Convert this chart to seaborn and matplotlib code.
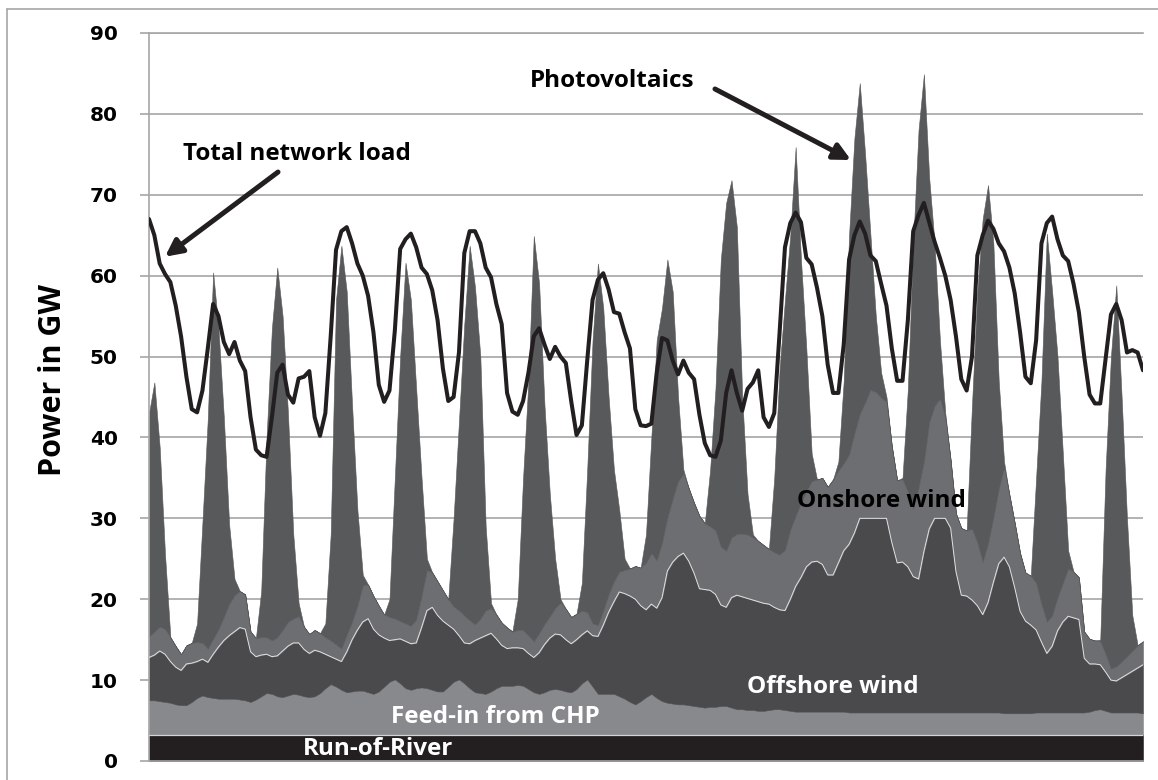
import matplotlib
matplotlib.use("Agg")
import matplotlib.pyplot as plt
from matplotlib.lines import Line2D
import numpy as np
import pandas as pd
import seaborn as sns

# time axis: hours since midnight of the first day, 2 h steps
hours = np.arange(10, 384, 2)

run_of_river = 3.2  # GW, constant band

chp = [
    4.3, 4.3, 4.2, 4.1, 4.0, 3.8, 3.7,
    3.7, 4.1, 4.6, 4.9, 4.7, 4.6, 4.5, 4.5, 4.5, 4.5, 4.4, 4.3,
    4.1, 4.4, 4.8, 5.2, 5.1, 4.8, 4.7, 4.9, 5.1, 5.0, 4.8, 4.7,
    4.8, 5.2, 5.8, 6.3, 6.0, 5.6, 5.3, 5.4, 5.5, 5.5, 5.3, 5.1,
    5.4, 6.0, 6.6, 6.9, 6.4, 5.8, 5.6, 5.8, 5.9, 5.8, 5.6, 5.4,
    5.4, 6.0, 6.6, 6.9, 6.4, 5.8, 5.3, 5.2, 5.1, 5.4, 5.8, 6.1,
    6.1, 6.1, 6.2, 6.1, 5.7, 5.3, 5.1, 5.3, 5.6, 5.7, 5.6, 5.4,
    5.3, 5.7, 6.4, 6.9, 6.0, 5.1, 5.1, 5.1, 5.1, 4.8, 4.5, 4.1,
    3.8, 4.2, 4.7, 5.1, 4.6, 4.2, 4.0, 3.9, 3.8, 3.8, 3.7, 3.6,
    3.5, 3.4, 3.5, 3.5, 3.6, 3.6, 3.4, 3.2, 3.2, 3.1, 3.1, 3.0,
    3.0, 3.1, 3.2, 3.2, 3.1, 3.0, 2.9, 2.9, 2.9, 2.9, 2.9, 2.9,
    2.9, 2.9, 2.9, 2.9, 2.8, 2.8, 2.8, 2.8, 2.8, 2.8, 2.8, 2.8,
    2.8, 2.8, 2.8, 2.8, 2.8, 2.8, 2.8, 2.8, 2.8, 2.8, 2.8, 2.8,
    2.8, 2.8, 2.8, 2.8, 2.8, 2.8, 2.8, 2.8, 2.8, 2.7, 2.7, 2.7,
    2.7, 2.7, 2.7, 2.8, 2.8, 2.8, 2.8, 2.8, 2.8, 2.8, 2.8, 2.8,
    2.8, 2.9, 3.1, 3.2, 3.0, 2.8, 2.8, 2.8, 2.8, 2.8, 2.8, 2.7,
]

offshore = [
    5.3, 5.6, 6.2, 5.9, 5.1, 4.6, 4.3,
    5.1, 4.8, 4.5, 4.5, 4.3, 5.4, 6.4, 7.2, 7.8, 8.3, 8.9, 8.8,
    6.2, 5.3, 5.1, 4.8, 4.6, 5.0, 5.7, 6.1, 6.3, 6.4, 5.8, 5.4,
    5.7, 5.1, 4.2, 3.4, 3.4, 3.5, 5.0, 6.4, 7.5, 8.5, 9.1, 8.0,
    7.0, 6.0, 5.1, 4.9, 5.5, 5.8, 5.7, 5.6, 7.4, 9.6, 10.2, 9.4,
    8.7, 7.6, 6.5, 5.4, 5.0, 5.5, 6.4, 6.8, 7.2, 7.2, 6.1, 5.0,
    4.6, 4.7, 4.6, 4.6, 4.4, 4.3, 5.1, 5.9, 6.4, 6.8, 6.8, 6.4,
    6.0, 6.1, 6.0, 6.0, 6.3, 7.1, 8.5, 10.1, 11.4, 12.9, 13.0, 13.1,
    13.0, 11.8, 10.8, 11.1, 11.1, 12.8, 16.3, 17.5, 18.3, 18.7, 17.8, 16.4,
    14.6, 14.6, 14.4, 13.9, 12.5, 12.2, 13.6, 14.1, 13.9, 13.8, 13.6, 13.5,
    13.3, 13.1, 12.6, 12.3, 12.3, 13.8, 15.5, 16.6, 17.9, 18.5, 18.6, 18.2,
    16.9, 16.9, 18.4, 19.9, 20.8, 22.2, 24.0, 24.0, 24.0, 24.0, 24.0, 24.0,
    21.0, 18.5, 18.6, 18.0, 16.8, 16.5, 19.9, 22.7, 24.0, 24.0, 24.0, 22.8,
    17.4, 14.5, 14.4, 13.9, 13.2, 12.1, 13.6, 16.1, 18.4, 19.3, 18.1, 15.5,
    12.6, 11.4, 10.9, 10.2, 8.7, 7.3, 8.2, 10.1, 11.2, 11.9, 11.7, 11.5,
    6.7, 5.9, 5.7, 5.5, 4.8, 4.0, 3.9, 4.3, 4.7, 5.1, 5.5, 6.0,
]

onshore = [
    2.6, 2.9, 3.0, 3.1, 3.0, 2.6, 2.0,
    2.3, 2.5, 2.4, 2.0, 1.7, 1.9, 2.2, 2.9, 3.9, 4.5, 4.5, 4.3,
    2.5, 2.3, 2.2, 2.1, 2.0, 2.3, 2.6, 3.0, 3.0, 3.3, 2.8, 2.4,
    2.5, 2.3, 2.1, 2.0, 1.8, 1.6, 2.1, 2.2, 3.0, 4.5, 4.2, 4.1,
    3.6, 2.9, 2.9, 2.6, 2.2, 2.2, 2.2, 2.9, 3.9, 5.0, 4.3, 4.2,
    3.8, 3.2, 2.8, 3.1, 3.4, 2.9, 2.0, 2.4, 3.1, 3.1, 3.0, 2.8,
    2.6, 2.0, 2.2, 2.3, 2.2, 2.0, 2.4, 2.5, 2.7, 3.2, 4.0, 3.8,
    3.3, 3.2, 3.0, 2.3, 1.5, 1.4, 1.8, 2.2, 2.5, 2.5, 2.9, 3.4,
    4.1, 4.7, 5.8, 6.3, 5.9, 6.8, 6.6, 7.8, 9.3, 9.8, 9.0, 8.7,
    9.0, 8.2, 7.9, 7.9, 7.2, 7.0, 7.4, 7.6, 7.8, 7.9, 7.7, 7.5,
    7.2, 6.8, 6.8, 6.8, 7.5, 8.6, 8.7, 9.2, 9.3, 10.0, 10.1, 10.7,
    10.9, 11.8, 11.4, 10.8, 11.1, 12.3, 12.9, 14.3, 15.9, 15.6, 14.9, 14.4,
    11.9, 10.2, 10.2, 9.3, 8.4, 11.3, 11.1, 13.2, 13.9, 14.8, 12.4, 8.4,
    7.2, 8.3, 8.1, 8.8, 7.8, 6.5, 7.3, 8.0, 9.2, 11.1, 8.9, 8.0,
    7.2, 6.0, 6.1, 5.8, 4.7, 3.9, 3.8, 4.1, 4.8, 5.9, 5.7, 5.2,
    3.3, 3.1, 2.9, 2.9, 2.2, 1.4, 1.8, 2.0, 2.2, 2.5, 2.8, 2.9,
]

photovoltaics = [
    27.6, 30.8, 22.2, 9.2, 0, 0, 0,
    0, 0, 2.3, 14.9, 28.4, 45.3, 37.2, 24.7, 9.8, 2.0, 0, 0,
    0, 0, 5.7, 24.7, 38.6, 45.7, 38.8, 25.8, 10.4, 1.6, 0, 0,
    0, 0, 1.7, 13.1, 42.6, 49.8, 42.4, 26.8, 11.8, 1.3, 0, 0,
    0, 0, 2.2, 17.4, 32.7, 44.6, 40.3, 28.5, 14.6, 1.4, 0, 0,
    0, 0, 10.9, 23.4, 36.0, 46.3, 41.7, 32.4, 10.4, 0.6, 0, 0,
    0, 0, 3.8, 18.8, 31.5, 50.1, 43.2, 27.1, 15.1, 6.1, 0.4, 0,
    0, 0, 3.4, 17.6, 35.0, 44.7, 37.4, 24.4, 13.8, 7.6, 1.4, 0,
    0, 0, 3.5, 14.3, 27.2, 29.0, 31.9, 25.6, 10.4, 0.5, 0, 0,
    0, 0, 7.0, 17.5, 35.5, 43.0, 44.2, 37.9, 16.9, 5.0, 0.4, 0,
    0, 0, 9.2, 23.0, 30.9, 36.4, 45.6, 30.1, 17.7, 3.4, 0, 0,
    0, 0, 1.1, 10.2, 27.1, 36.5, 40.9, 30.7, 19.1, 9.4, 3.1, 0.6,
    0, 0, 0.2, 12.7, 32.8, 44.2, 47.9, 30.1, 20.1, 7.2, 0.6, 0,
    0, 0, 0, 15.3, 31.0, 42.4, 44.3, 33.9, 13.4, 0.7, 0, 0,
    0, 0, 0, 13.0, 27.6, 48.0, 40.0, 29.8, 16.0, 2.2, 0, 0,
    0, 0, 0, 0.2, 22.8, 38.6, 47.1, 32.7, 17.1, 4.4, 0, 0,
]

total_load = [
    67.0, 65.0, 61.5, 60.2, 59.2, 56.3, 52.5,
    47.5, 43.5, 43.1, 45.8, 51.0, 56.5, 55.0, 51.8, 50.3, 51.8, 49.5, 48.2,
    42.5, 38.5, 37.8, 37.6, 42.5, 48.0, 49.0, 45.3, 44.3, 47.3, 47.5, 48.2,
    42.5, 40.2, 43.0, 52.5, 63.2, 65.5, 66.0, 64.0, 61.5, 60.0, 57.5, 53.0,
    46.5, 44.4, 45.8, 53.2, 63.3, 64.5, 65.2, 63.5, 61.0, 60.2, 58.2, 54.5,
    48.5, 44.5, 45.0, 50.5, 62.8, 65.5, 65.5, 64.0, 61.0, 59.8, 56.5, 54.0,
    45.5, 43.2, 42.8, 44.5, 48.0, 52.5, 53.5, 51.5, 49.7, 51.2, 50.0, 49.2,
    44.5, 40.3, 41.5, 49.5, 57.0, 59.5, 60.3, 58.3, 55.5, 55.3, 53.0, 51.0,
    43.5, 41.5, 41.4, 41.7, 48.0, 52.3, 52.0, 49.5, 47.8, 49.5, 48.0, 47.2,
    42.8, 39.3, 37.8, 37.6, 39.6, 45.5, 48.3, 45.5, 43.3, 46.0, 46.8, 48.3,
    42.5, 41.3, 43.0, 53.0, 63.5, 66.5, 67.8, 66.6, 62.2, 61.4, 58.5, 55.0,
    49.0, 45.5, 45.5, 51.5, 62.0, 65.0, 66.7, 65.2, 62.5, 61.8, 59.0, 56.3,
    51.0, 47.0, 47.0, 54.5, 65.5, 67.5, 69.0, 66.6, 64.2, 62.2, 60.0, 57.0,
    52.5, 47.2, 45.8, 50.0, 62.5, 65.0, 66.8, 65.8, 64.0, 63.0, 61.0, 57.8,
    53.0, 47.5, 46.7, 52.0, 64.0, 66.5, 67.3, 64.5, 62.5, 61.8, 59.0, 55.5,
    50.0, 45.3, 44.2, 44.2, 49.7, 55.2, 56.5, 54.5, 50.5, 50.8, 50.5, 48.3,
]

layer_colors = ["#231f20", "#88898d", "#4a4a4d", "#6d6e71", "#58595b"]
y_ticks = [0, 10, 20, 30, 40, 50, 60, 70, 80, 90]
grid_grey = "#a6a6a6"

sns.set_theme(style="white")
plt.rcParams["font.family"] = ["Open Sans", "DejaVu Sans"]

W, H = 1158, 780
fig = plt.figure(figsize=(W / 100, H / 100), dpi=100)
ax = fig.add_axes([149 / W, 19 / H, 994 / W, 728 / H])

# stacked generation
stack = np.vstack([np.full(len(hours), run_of_river), chp, offshore,
                   onshore, photovoltaics])
polys = ax.stackplot(hours, stack, colors=layer_colors, zorder=2)
for poly, c in zip(polys, layer_colors):
    poly.set_edgecolor(c)
    poly.set_linewidth(0.4)
tops = stack.cumsum(axis=0)
ax.plot(hours, tops[0], color="#d4d4d4", lw=0.9, zorder=3)
ax.plot(hours, tops[2], color="#e2e2e2", lw=0.7, zorder=3)

# total network load
df = pd.DataFrame({"hour": hours, "load": total_load})
sns.lineplot(data=df, x="hour", y="load", color="#231f20", lw=2.9,
             ax=ax, zorder=4)

ax.set_xlim(hours[0], hours[-1])
ax.set_ylim(0, 90)
ax.set_xticks([])
ax.set_xlabel("")
ax.set_yticks(y_ticks)
ax.set_yticklabels([str(t) for t in y_ticks], fontsize=14.5,
                   fontweight="bold", color="black", family="DejaVu Sans")
ax.yaxis.grid(True, color=grid_grey, lw=1.2, zorder=0)
ax.set_axisbelow(True)
ax.tick_params(axis="y", left=True, length=6.5, width=1.2, color=grid_grey,
               pad=16)
for side in ["left", "bottom", "top"]:
    ax.spines[side].set_visible(True)
    ax.spines[side].set_color(grid_grey)
    ax.spines[side].set_linewidth(1.2)
ax.spines["right"].set_visible(False)

ax.set_ylabel("Power in GW", fontsize=22, fontweight="bold",
              color="black")
ax.yaxis.set_label_coords(-0.081, 0.523)

# labels and arrows
arrow_kw = dict(arrowstyle="-|>", color="#231f20", lw=3.6,
                mutation_scale=25, shrinkA=0, shrinkB=0)
ax.annotate("", xy=(0.0161, 0.6927), xytext=(0.1298, 0.809),
            xycoords="axes fraction", arrowprops=arrow_kw, zorder=6)
ax.annotate("", xy=(0.7062, 0.8255), xytext=(0.5694, 0.9231),
            xycoords="axes fraction", arrowprops=arrow_kw, zorder=6)

labels = [
    ("Total network load", 0.1486, 0.8255, "black"),
    ("Photovoltaics", 0.4663, 0.9254, "black"),
    ("Onshore wind", 0.737, 0.3489, "black"),
    ("Offshore wind", 0.6881, 0.0930, "white"),
    ("Feed-in from CHP", 0.3489, 0.0518, "white"),
    ("Run-of-River", 0.2307, 0.0082, "white"),
]
for txt, x, y, c in labels:
    ax.text(x, y, txt, transform=ax.transAxes, ha="center", va="baseline",
            fontsize=17.5, fontweight="bold", color=c, zorder=7)

# thin outer frame (left and top edges visible)
fig.add_artist(Line2D([7 / W, 7 / W], [0, 1 - 9 / H], color=grid_grey,
                      lw=1.2, transform=fig.transFigure))
fig.add_artist(Line2D([7 / W, 1], [1 - 9 / H, 1 - 9 / H], color=grid_grey,
                      lw=1.2, transform=fig.transFigure))

fig.savefig("out.png", dpi=100, facecolor="white")
